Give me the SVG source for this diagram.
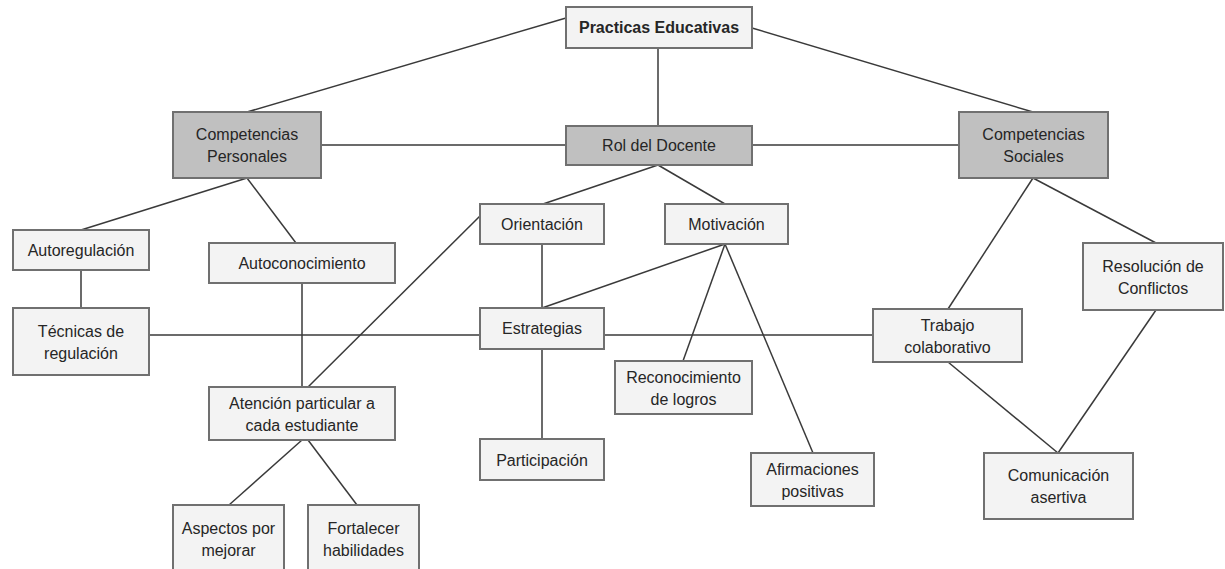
<svg xmlns="http://www.w3.org/2000/svg" width="1225" height="569" viewBox="0 0 1225 569">
<style>
.n rect{fill:#f3f3f3;stroke:#707070;stroke-width:2}
.g rect{fill:#c0c0c0}
text{font-family:"Liberation Sans",Arial,sans-serif;font-size:16px;fill:#262626;text-anchor:middle}
.b{font-weight:bold}
#edges line{stroke:#3a3a3a;stroke-width:1.5}
</style>
<rect width="1225" height="569" fill="#fff"/>
<g id="edges">
<line x1="566" y1="18" x2="247" y2="112"/>
<line x1="752" y1="28" x2="1033" y2="112"/>
<line x1="658" y1="48" x2="658" y2="126"/>
<line x1="321" y1="145" x2="566" y2="145"/>
<line x1="752" y1="145" x2="959" y2="145"/>
<line x1="247" y1="178" x2="81" y2="230"/>
<line x1="247" y1="178" x2="296" y2="243"/>
<line x1="81" y1="270" x2="81" y2="308"/>
<line x1="302" y1="283" x2="302" y2="387"/>
<line x1="658" y1="165" x2="543" y2="204"/>
<line x1="658" y1="165" x2="725" y2="204"/>
<line x1="480" y1="216" x2="308" y2="387"/>
<line x1="542" y1="244" x2="542" y2="308"/>
<line x1="725" y1="244" x2="542" y2="308"/>
<line x1="725" y1="244" x2="683" y2="361"/>
<line x1="725" y1="244" x2="813" y2="453"/>
<line x1="149" y1="335" x2="480" y2="335"/>
<line x1="604" y1="335" x2="873" y2="335"/>
<line x1="542" y1="349" x2="542" y2="439"/>
<line x1="302" y1="440" x2="229" y2="505"/>
<line x1="308" y1="440" x2="357" y2="505"/>
<line x1="1033" y1="178" x2="948" y2="309"/>
<line x1="1033" y1="178" x2="1156" y2="243"/>
<line x1="948" y1="362" x2="1058" y2="453"/>
<line x1="1156" y1="310" x2="1058" y2="453"/>
</g>
<g id="practicas" class="n"><rect x="566" y="7" width="186" height="41"/><text x="659" y="33" class="b">Practicas Educativas</text></g>
<g id="compPersonales" class="n g"><rect x="173" y="112" width="148" height="66"/><text x="247" y="140">Competencias</text><text x="247" y="162">Personales</text></g>
<g id="rolDocente" class="n g"><rect x="566" y="126" width="186" height="39"/><text x="659" y="151">Rol del Docente</text></g>
<g id="compSociales" class="n g"><rect x="959" y="112" width="149" height="66"/><text x="1033.5" y="140">Competencias</text><text x="1033.5" y="162">Sociales</text></g>
<g id="autoregulacion" class="n"><rect x="13" y="230" width="136" height="40"/><text x="81" y="255.5">Autoregulación</text></g>
<g id="autoconocimiento" class="n"><rect x="209" y="243" width="186" height="40"/><text x="302" y="268.5">Autoconocimiento</text></g>
<g id="orientacion" class="n"><rect x="480" y="204" width="124" height="40"/><text x="542" y="229.5">Orientación</text></g>
<g id="motivacion" class="n"><rect x="665" y="204" width="123" height="40"/><text x="726.5" y="229.5">Motivación</text></g>
<g id="resolucion" class="n"><rect x="1083" y="243" width="140" height="67"/><text x="1153" y="272">Resolución de</text><text x="1153" y="294">Conflictos</text></g>
<g id="tecnicas" class="n"><rect x="13" y="308" width="136" height="67"/><text x="81" y="337">Técnicas de</text><text x="81" y="359">regulación</text></g>
<g id="estrategias" class="n"><rect x="480" y="308" width="124" height="41"/><text x="542" y="334">Estrategias</text></g>
<g id="trabajo" class="n"><rect x="873" y="309" width="149" height="53"/><text x="947.5" y="330.5">Trabajo</text><text x="947.5" y="352.5">colaborativo</text></g>
<g id="reconocimiento" class="n"><rect x="615" y="361" width="137" height="53"/><text x="683.5" y="383">Reconocimiento</text><text x="683.5" y="405">de logros</text></g>
<g id="atencion" class="n"><rect x="209" y="387" width="186" height="53"/><text x="302" y="409">Atención particular a</text><text x="302" y="431">cada estudiante</text></g>
<g id="participacion" class="n"><rect x="480" y="439" width="124" height="41"/><text x="542" y="465.5">Participación</text></g>
<g id="afirmaciones" class="n"><rect x="751" y="453" width="123" height="53"/><text x="812.5" y="475">Afirmaciones</text><text x="812.5" y="497">positivas</text></g>
<g id="comunicacion" class="n"><rect x="984" y="453" width="149" height="66"/><text x="1058.5" y="481">Comunicación</text><text x="1058.5" y="503">asertiva</text></g>
<g id="aspectos" class="n"><rect x="173" y="505" width="111" height="70"/><text x="228.5" y="533.5">Aspectos por</text><text x="228.5" y="555.5">mejorar</text></g>
<g id="fortalecer" class="n"><rect x="308" y="505" width="111" height="70"/><text x="363.5" y="533.5">Fortalecer</text><text x="363.5" y="555.5">habilidades</text></g>
</svg>
